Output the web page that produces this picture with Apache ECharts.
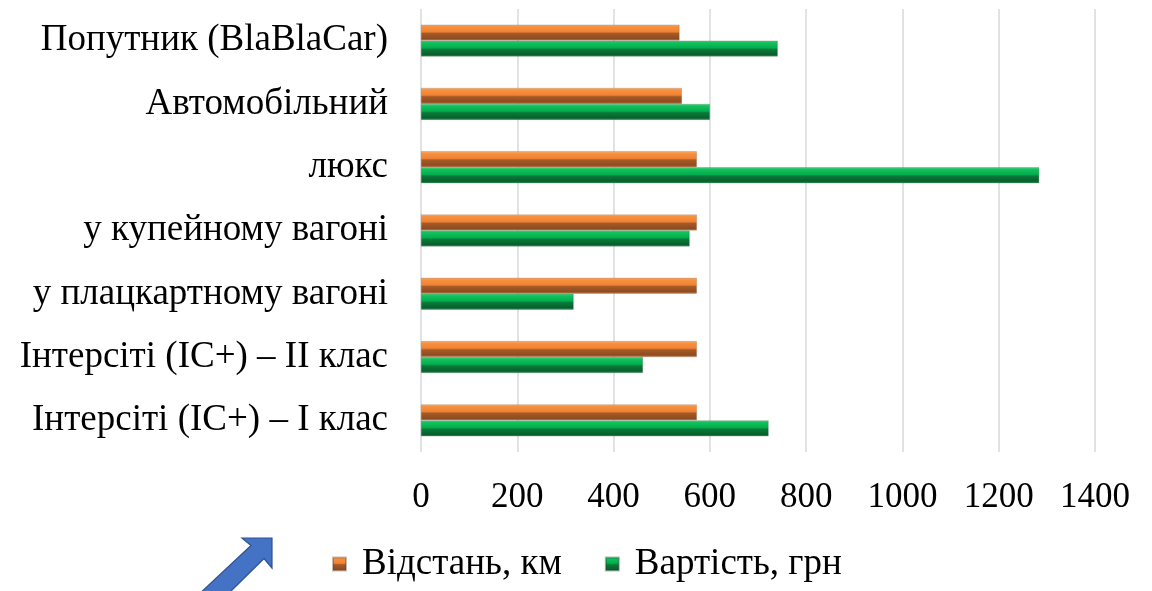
<!DOCTYPE html>
<html>
<head>
<meta charset="utf-8">
<script src="https://cdn.jsdelivr.net/npm/echarts@6/dist/echarts.min.js"></script>
<style>
html,body{margin:0;padding:0;background:#fff;}
#chart{width:1152px;height:591px;}
</style>
</head>
<body>
<div id="chart"></div>
<script>
const categories = [
  'Інтерсіті (IC+) – I клас',
  'Інтерсіті (IC+) – II клас',
  'у плацкартному вагоні',
  'у купейному вагоні',
  'люкс',
  'Автомобільний',
  'Попутник (BlaBlaCar)'
];
const distanceKm = [573, 573, 573, 573, 573, 542, 537];
const costUah = [722, 461, 317, 558, 1284, 600, 741];
const xTicks = [0, 200, 400, 600, 800, 1000, 1200, 1400];
const seriesNames = ['Відстань, км', 'Вартість, грн'];

const FONT = '"Liberation Serif", "Times New Roman", serif';

function grad(stops) {
  return new echarts.graphic.LinearGradient(0, 0, 0, 1,
    stops.map(s => ({ offset: s[0], color: s[1] })));
}
const orangeFill = grad([[0, '#FBB77A'], [0.12, '#F7923F'], [0.45, '#F08234'], [0.55, '#A65A27'], [0.88, '#8E4B20'], [1, '#C98A5C']]);
const greenFill = grad([[0, '#5BD98D'], [0.12, '#14C25C'], [0.45, '#00AE4E'], [0.55, '#0B7A3A'], [0.88, '#075F2C'], [1, '#3E9A62']]);

const chart = echarts.init(document.getElementById('chart'), null, { renderer: 'canvas' });
chart.setOption({
  animation: false,
  backgroundColor: '#ffffff',
  grid: { left: 421, right: 57, top: 9, bottom: 139, containLabel: false },
  legend: {
    data: seriesNames,
    left: 327,
    top: 539,
    itemWidth: 13,
    itemHeight: 13,
    itemGap: 43,
    icon: 'rect',
    textStyle: { fontFamily: FONT, fontSize: 37, lineHeight: 40, color: '#000', padding: [0, 0, 0, 11] }
  },
  xAxis: {
    type: 'value',
    min: 0,
    max: 1400,
    interval: 200,
    axisLine: { show: false },
    axisTick: { show: false },
    splitLine: { show: true, lineStyle: { color: '#D9D9D9', width: 1.5 } },
    axisLabel: {
      fontFamily: FONT, fontSize: 35, lineHeight: 35, color: '#000', margin: 28,
      formatter: v => xTicks.includes(v) ? String(v) : ''
    }
  },
  yAxis: {
    type: 'category',
    data: categories,
    axisLine: { show: false },
    axisTick: { show: false },
    axisLabel: { fontFamily: FONT, fontSize: 37, color: '#000', margin: 33 }
  },
  series: [
    {
      name: seriesNames[0],
      type: 'bar',
      data: distanceKm,
      barWidth: 16,
      barGap: '0%',
      itemStyle: { color: orangeFill, borderColor: 'rgba(90,60,40,0.35)', borderWidth: 0.6 }
    },
    {
      name: seriesNames[1],
      type: 'bar',
      data: costUah,
      barWidth: 16,
      barGap: '0%',
      itemStyle: { color: greenFill, borderColor: 'rgba(20,60,30,0.35)', borderWidth: 0.6 }
    }
  ],
  graphic: [
    {
      type: 'polygon',
      shape: {
        points: [[272, 538], [272, 568], [264, 558.5], [225, 597], [196, 597], [251, 545.5], [242, 538]]
      },
      style: { fill: '#4472C4', stroke: '#2F528F', lineWidth: 1.2 }
    }
  ]
});
</script>
</body>
</html>
